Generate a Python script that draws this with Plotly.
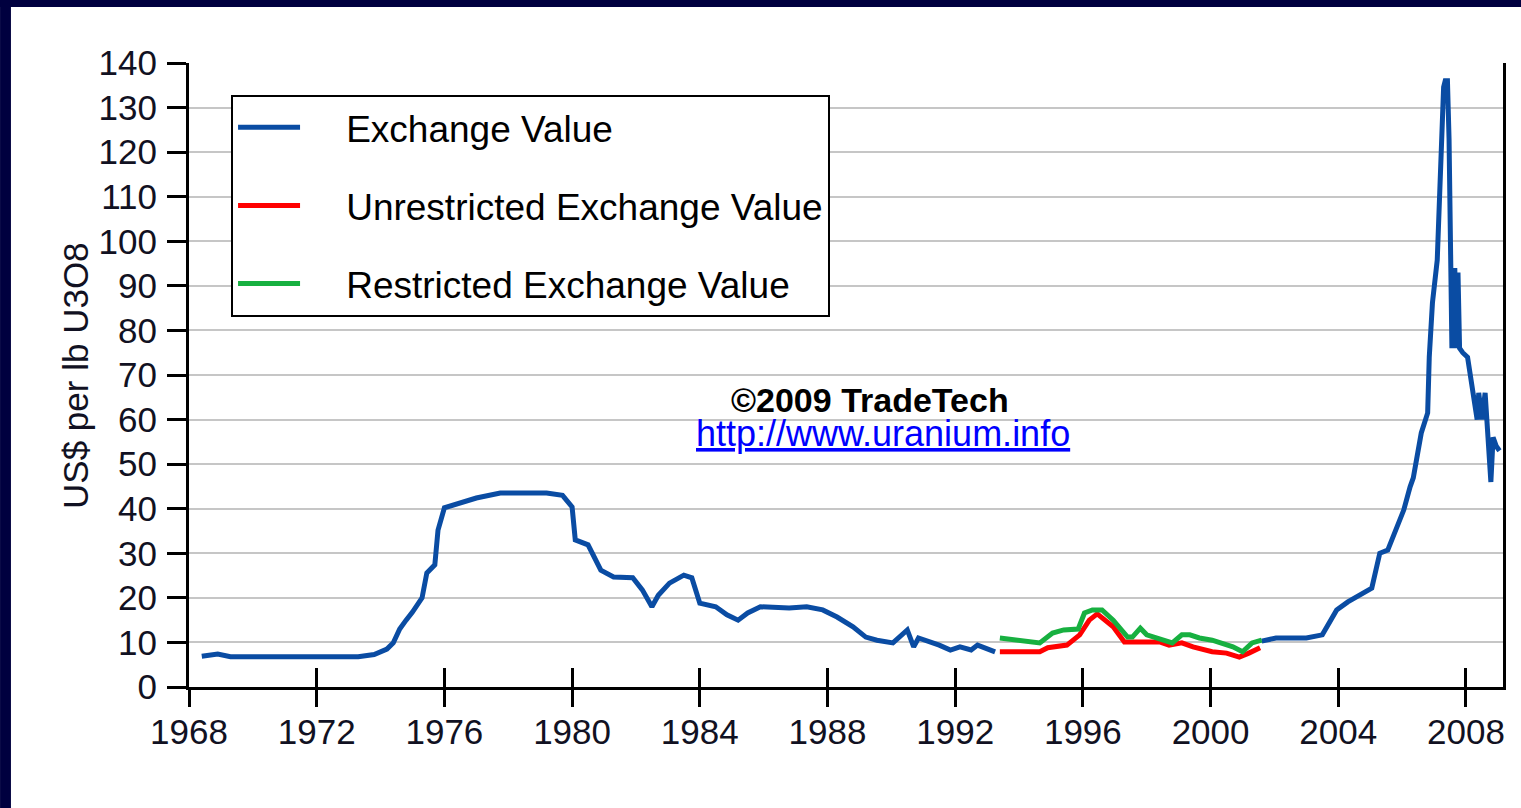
from plotly.graph_objects import Scatter, Figure

# Exchange Value (None marks the period covered by the split series)
exch_years = [1968.4, 1968.9, 1969.3, 1971.0, 1973.3, 1973.8, 1974.2, 1974.4, 1974.6, 1974.8,
              1975.0, 1975.3, 1975.45, 1975.7, 1975.8, 1976.0, 1976.5, 1977.0, 1977.75, 1979.2,
              1979.7, 1980.0, 1980.1, 1980.5, 1980.9, 1981.3, 1981.9, 1982.2, 1982.5, 1982.7,
              1983.05, 1983.5, 1983.75, 1984.0, 1984.5, 1984.85, 1985.2, 1985.5, 1985.9, 1986.8,
              1987.35, 1987.85, 1988.3, 1988.8, 1989.2, 1989.55, 1990.05, 1990.5, 1990.7, 1990.85,
              1991.5, 1991.85, 1992.15, 1992.5, 1992.7, 1993.25, None,
              2001.6, 2002.05, 2003.0, 2003.5, 2003.95, 2004.3, 2005.05, 2005.3, 2005.55, 2005.85,
              2006.05, 2006.25, 2006.35, 2006.6, 2006.8, 2006.85, 2006.95, 2007.1, 2007.2, 2007.3,
              2007.35, 2007.42, 2007.47, 2007.52, 2007.56, 2007.6, 2007.65, 2007.7, 2007.75, 2007.8,
              2007.9, 2008.05, 2008.2, 2008.35, 2008.4, 2008.5, 2008.6, 2008.7, 2008.78, 2008.85,
              2008.95, 2009.05]
exch_vals = [6.9, 7.4, 6.8, 6.8, 6.8, 7.3, 8.5, 9.9, 13, 15,
             16.8, 20, 25.6, 27.4, 35.2, 40.2, 41.3, 42.4, 43.5, 43.5,
             43, 40.4, 33, 31.9, 26.2, 24.7, 24.5, 21.8, 18, 20.6,
             23.3, 25.1, 24.5, 18.8, 18, 16.2, 15, 16.6, 18, 17.7,
             18, 17.3, 15.7, 13.5, 11.2, 10.5, 9.9, 12.8, 9.0, 11,
             9.4, 8.3, 9, 8.3, 9.4, 7.9, None,
             10.3, 11, 11, 11.7, 17.3, 19.1, 22.2, 30, 30.7, 35.9,
             39.7, 44.9, 46.9, 57, 61.5, 74, 86.2, 95.8, 114.4, 134.6,
             136, 136, 123, 88, 76, 85, 94, 76, 93, 76,
             75, 74, 66, 60, 66, 60, 66, 55, 46, 56,
             54, 53]

# Unrestricted Exchange Value
unres_years = [1993.4, 1994.65, 1994.9, 1995.5, 1995.9, 1996.2, 1996.45, 1996.95, 1997.3, 1998.4,
               1998.7, 1999.1, 1999.45, 2000.05, 2000.5, 2000.9, 2001.2, 2001.55]
unres_vals = [7.9, 7.9, 8.8, 9.4, 11.7, 15, 16.4, 13.5, 10.1, 10.1,
              9.4, 9.9, 9, 7.9, 7.6, 6.7, 7.6, 8.8]

# Restricted Exchange Value
res_years = [1993.4, 1993.9, 1994.65, 1995.05, 1995.4, 1995.85, 1996.05, 1996.3, 1996.6, 1996.95,
             1997.4, 1997.55, 1997.8, 1998.0, 1998.6, 1998.8, 1999.1, 1999.35, 1999.65, 2000.05,
             2000.7, 2001.0, 2001.3, 2001.6]
res_vals = [11, 10.5, 9.9, 12.1, 12.8, 13, 16.6, 17.3, 17.3, 15,
            11.2, 11.2, 13.2, 11.7, 10.5, 9.9, 11.7, 11.7, 11, 10.5,
            9, 7.9, 9.9, 10.5]

x_ticks = [1968, 1972, 1976, 1980, 1984, 1988, 1992, 1996, 2000, 2004, 2008]
y_ticks = list(range(0, 150, 10))

FONT = "Liberation Sans, Arial, sans-serif"
NAVY = "#00003f"
GAP = "\u00a0\u00a0\u00a0\u00a0"   # extra room between legend line and its text

fig = Figure()
fig.add_trace(Scatter(x=exch_years, y=exch_vals, mode="lines", name=GAP + "Exchange Value",
                      line=dict(color="#0a4ca3", width=5), legendgroup="a"))
fig.add_trace(Scatter(x=unres_years, y=unres_vals, mode="lines",
                      name=GAP + "Unrestricted Exchange Value",
                      line=dict(color="#ff0000", width=5), legendgroup="b"))
fig.add_trace(Scatter(x=res_years, y=res_vals, mode="lines",
                      name=GAP + "Restricted Exchange Value",
                      line=dict(color="#17b040", width=5), legendgroup="c"))
# second x axis only to get the tick marks crossing the axis line
fig.add_trace(Scatter(x=[None], y=[None], xaxis="x2", showlegend=False, hoverinfo="skip"))

fig.update_layout(
    width=1521, height=808,
    margin=dict(l=189, r=18, t=63, b=121),
    paper_bgcolor="white", plot_bgcolor="white",
    font=dict(family=FONT, color="#111122"),
    xaxis=dict(range=[1968, 2009.16], tickvals=x_ticks, ticks="outside", ticklen=17,
               tickwidth=3, tickcolor="black", showline=True, linecolor="black", linewidth=3,
               showgrid=False, zeroline=False, tickfont=dict(size=35), mirror=False,
               ticklabelstandoff=-5),
    xaxis2=dict(overlaying="x", matches="x", range=[1968, 2009.16], tickvals=x_ticks,
                ticks="inside", ticklen=19, tickwidth=3, tickcolor="black",
                showticklabels=False, showgrid=False, zeroline=False, side="bottom",
                anchor="y"),
    yaxis=dict(range=[0, 140], tickvals=y_ticks, ticks="outside", ticklen=19, tickwidth=3,
               tickcolor="black", showline=True, linecolor="black", linewidth=3, mirror=True,
               showgrid=True, gridcolor="#c6c6c6", gridwidth=2, zeroline=False,
               tickfont=dict(size=35), ticklabelstandoff=3),
    legend=dict(x=0.032, y=0.949, xanchor="left", yanchor="top", bgcolor="white",
                bordercolor="black", borderwidth=2, font=dict(size=37, color="black"),
                itemwidth=62, tracegroupgap=27, traceorder="grouped"),
    showlegend=True,
)

fig.add_annotation(text="US$ per lb U3O8", textangle=-90, xref="paper", yref="paper",
                   x=-0.0868, y=0.5, xanchor="center", yanchor="middle", showarrow=False,
                   font=dict(size=35, color="#111122"))
fig.add_annotation(text="<b>©2009 TradeTech</b>", xref="paper", yref="paper", x=0.518, y=0.460,
                   xanchor="center", yanchor="middle", showarrow=False,
                   font=dict(size=34, color="black"))
fig.add_annotation(text="<u>http://www.uranium.info</u>", xref="paper", yref="paper",
                   x=0.528, y=0.406, xanchor="center", yanchor="middle", showarrow=False,
                   font=dict(size=36, color="#0000ff"))

# dark frame along top and left edges of the picture
fig.add_shape(type="rect", xref="paper", yref="paper", x0=-0.1438, x1=-0.1355, y0=-0.2, y1=1.11,
              fillcolor=NAVY, line_width=0, layer="below")
fig.add_shape(type="rect", xref="paper", yref="paper", x0=-0.15, x1=1.02, y0=1.0897, y1=1.11,
              fillcolor=NAVY, line_width=0, layer="below")

fig.write_html("out.html", config={"displayModeBar": False},
               post_script="document.body.style.margin='0';")
